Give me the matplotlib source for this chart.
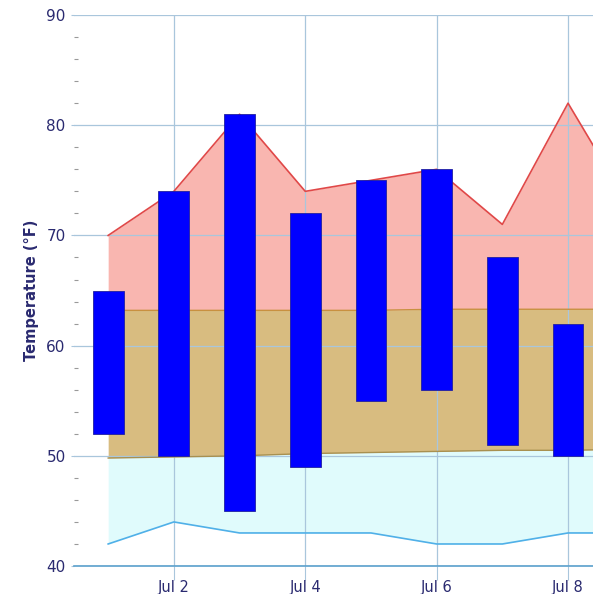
import matplotlib
matplotlib.use("Agg")
import matplotlib.pyplot as plt
import numpy as np
import datetime as dt
import matplotlib.dates as mdates

# Data
days = [dt.datetime(2023, 7, d) for d in range(1, 10)]
actual_low = [52, 50, 45, 49, 55, 56, 51, 50]
actual_high = [65, 74, 81, 72, 75, 76, 68, 62]
record_high = [70, 74, 81, 74, 75, 76, 71, 82, 72]
normal_high = [63.2, 63.2, 63.2, 63.2, 63.2, 63.3, 63.3, 63.3, 63.3]
normal_low = [49.8, 49.9, 50.0, 50.2, 50.3, 50.4, 50.5, 50.5, 50.6]
record_low = [42, 44, 43, 43, 43, 42, 42, 43, 43]
tick_labels = ["Jul 2", "Jul 4", "Jul 6", "Jul 8"]

navy = "#2a2a70"
fig = plt.figure(figsize=(5.93, 5.94), dpi=100)
ax = fig.add_axes([0.1248, 0.0471, 0.8752, 0.9276])

x = mdates.date2num(days)
ax.fill_between(x, record_high, normal_high, color="#f9b6b0", lw=0, zorder=1)
ax.fill_between(x, normal_high, normal_low, color="#d8bc80", lw=0, zorder=1)
ax.fill_between(x, normal_low, record_low, color="#e0fbfc", lw=0, zorder=1)
ax.plot(x, record_high, color="#e04848", lw=1.2, zorder=3)
ax.plot(x, normal_high, color="#c89040", lw=1.0, zorder=3)
ax.plot(x, normal_low, color="#a89050", lw=1.0, zorder=3)
ax.plot(x, record_low, color="#50b0e8", lw=1.2, zorder=3)

xb = x[:len(actual_low)]
heights = np.array(actual_high) - np.array(actual_low)
ax.bar(xb, heights, bottom=actual_low, width=0.47, color="#0000ff",
       edgecolor="#2020a0", linewidth=0.6, zorder=4)

ax.set_ylim(40, 90)
ax.set_xlim(x[0] - 0.52, x[0] + 7.38)
ax.set_yticks(range(40, 91, 10))
ax.set_yticks(np.arange(40, 90, 2), minor=True)
tick_x = [mdates.date2num(dt.datetime(2023, 7, d)) for d in (2, 4, 6, 8)]
ax.set_xticks(tick_x)
ax.set_xticklabels(tick_labels)

ax.grid(True, which="major", color="#a9c6dc", lw=0.9, zorder=2)
ax.set_axisbelow(False)
for gl in ax.get_xgridlines() + ax.get_ygridlines():
    gl.set_zorder(2)

for s in ["left", "right", "top"]:
    ax.spines[s].set_visible(False)
ax.spines["bottom"].set_color("#5aa0cc")
ax.spines["bottom"].set_linewidth(1.2)
ax.spines["bottom"].set_zorder(5)

ax.tick_params(axis="y", which="major", length=2, color="#a9c6dc", labelcolor=navy,
               labelsize=11, pad=4)
ax.tick_params(axis="y", which="minor", length=3, color="#999999", width=0.8,
               direction="in")
ax.tick_params(axis="x", which="major", length=10, color="#a9c6dc", labelcolor=navy,
               labelsize=10.5, pad=0)

ax.set_ylabel("Temperature (°F)", color=navy, fontsize=10.5, fontweight="bold", labelpad=5)

fig.savefig("out.png", dpi=100)
